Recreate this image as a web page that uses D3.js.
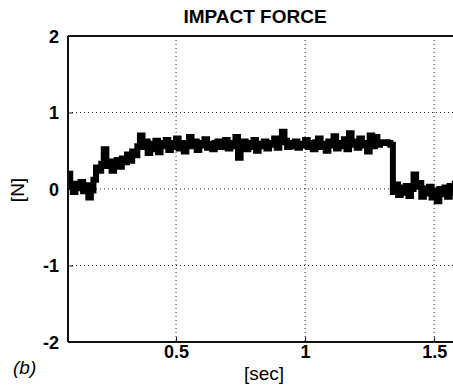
<!DOCTYPE html>
<html>
<head>
<meta charset="utf-8">
<script src="https://cdn.jsdelivr.net/npm/d3@7"></script>
<style>
    body { margin: 0; background: #fff; }
    text { font-family: "Liberation Sans", Arial, sans-serif; fill: #000; }
</style>
</head>
<body>
<div id="chart"></div>
<script>
/* Sampled impact force, one sample every 0.01 sec starting at 0.08 sec */
var startTime = 0.08;
var samplePeriod = 0.01;
var forceValues = [
    0.20, 0.03, -0.04, 0.07, 0.01, 0.09, -0.03, 0.05, -0.11, -0.02,
    0.12, 0.28, 0.24, 0.33, 0.52, 0.30, 0.36, 0.24, 0.34, 0.38,
    0.29, 0.40, 0.35, 0.45, 0.37, 0.49, 0.44, 0.56, 0.70, 0.55,
    0.62, 0.47, 0.59, 0.52, 0.63, 0.48, 0.60, 0.56, 0.64, 0.51,
    0.60, 0.55, 0.66, 0.53, 0.60, 0.49, 0.58, 0.68, 0.56, 0.62,
    0.51, 0.60, 0.57, 0.65, 0.54, 0.59, 0.52, 0.60, 0.62, 0.55,
    0.58, 0.64, 0.53, 0.60, 0.56, 0.68, 0.41, 0.57, 0.62, 0.52,
    0.60, 0.55, 0.64, 0.50, 0.59, 0.56, 0.62, 0.53, 0.60, 0.58,
    0.66, 0.54, 0.61, 0.75, 0.63, 0.55, 0.60, 0.56, 0.62, 0.54,
    0.59, 0.57, 0.64, 0.55, 0.60, 0.52, 0.61, 0.66, 0.55, 0.59,
    0.50, 0.62, 0.57, 0.69, 0.53, 0.60, 0.56, 0.65, 0.52, 0.73,
    0.58, 0.62, 0.54, 0.66, 0.57, 0.60, 0.49, 0.70, 0.56, 0.68,
    0.58, 0.61, 0.60, 0.61, 0.60, 0.58, -0.04, 0.06, -0.08, 0.02,
    -0.05, 0.04, -0.09, 0.00, 0.19, 0.03, 0.08, -0.10, 0.01, -0.06,
    0.03, -0.11, -0.02, -0.16, 0.00, -0.07, 0.02, -0.10, 0.04, -0.05,
    0.07, -0.08, 0.03
];
var xTicks = [0.5, 1, 1.5];
var xTickLabels = ["0.5", "1", "1.5"];
var yTicks = [-2, -1, 0, 1, 2];
var yGrid = [-1, 0, 1];
var xDomain = [0.0814, 1.6];
var yDomain = [-2, 2];

var svgWidth = 453;   /* svg width */
var svgHeight = 387;  /* svg height */
var plotLeft = 68, plotTop = 36, plotBottom = 342, plotRight = 460;

var theSVG = d3.select("#chart")
    .append("svg")
    .attr("width", svgWidth)
    .attr("height", svgHeight)
;

var x = d3.scaleLinear().domain(xDomain).range([plotLeft, plotRight]);
var y = d3.scaleLinear().domain(yDomain).range([plotBottom, plotTop]);

/* dotted grid */
theSVG.append("g").selectAll("line")
    .data(xTicks).enter().append("line")
    .attr("x1", function (d) { return x(d); })
    .attr("x2", function (d) { return x(d); })
    .attr("y1", plotTop).attr("y2", plotBottom)
    .attr("stroke", "#222").attr("stroke-width", 1)
    .attr("stroke-dasharray", "1,3")
;
theSVG.append("g").selectAll("line")
    .data(yGrid).enter().append("line")
    .attr("x1", plotLeft).attr("x2", plotRight)
    .attr("y1", function (d) { return y(d); })
    .attr("y2", function (d) { return y(d); })
    .attr("stroke", "#222").attr("stroke-width", 1)
    .attr("stroke-dasharray", "1,3")
;

/* the force trace */
var line = d3.line()
    .x(function (d, i) { return x(startTime + i * samplePeriod); })
    .y(function (d) { return y(d); })
    .curve(d3.curveStepAfter)
;
theSVG.append("path")
    .datum(forceValues)
    .attr("fill", "none")
    .attr("stroke", "#000")
    .attr("stroke-width", 6)
    .attr("d", line)
;

/* axes: MATLAB style box, ticks pointing in */
var xAxis = d3.axisBottom(x).tickValues(xTicks).tickSize(-5)
    .tickFormat(function (d, i) { return xTickLabels[i]; });
var yAxis = d3.axisLeft(y).tickValues(yTicks).tickSize(-5)
    .tickFormat(function (d) { return String(d); });

var gx = theSVG.append("g")
    .attr("transform", "translate(0," + plotBottom + ")")
    .call(xAxis)
;
var gy = theSVG.append("g")
    .attr("transform", "translate(" + plotLeft + ",0)")
    .call(yAxis)
;
[gx, gy].forEach(function (g) {
    g.select(".domain").attr("stroke", "#111").attr("stroke-width", 2);
    g.selectAll(".tick line").attr("stroke", "#111");
    g.selectAll("text")
        .style("font-family", "'Liberation Sans', Arial, sans-serif")
        .style("font-size", "18px")
        .style("font-weight", "bold")
        .attr("fill", "#000");
});
gx.selectAll("text").attr("y", 0).attr("dy", "16px");
gy.selectAll("text").attr("x", -9).attr("dy", "0.36em");
gx.select(".domain").attr("d", "M" + plotLeft + ",0H" + plotRight);
gy.select(".domain").attr("d", "M0," + plotTop + "V" + plotBottom);

/* top border */
theSVG.append("line")
    .attr("x1", plotLeft).attr("x2", plotRight)
    .attr("y1", plotTop).attr("y2", plotTop)
    .attr("stroke", "#111").attr("stroke-width", 2)
;

/* labels */
theSVG.append("text")
    .attr("x", 255).attr("y", 23)
    .attr("text-anchor", "middle")
    .style("font-size", "19px").style("font-weight", "bold")
    .text("IMPACT FORCE")
;
theSVG.append("text")
    .attr("x", 264).attr("y", 380)
    .attr("text-anchor", "middle")
    .style("font-size", "19px")
    .text("[sec]")
;
theSVG.append("text")
    .attr("transform", "translate(24,190) rotate(-90)")
    .attr("text-anchor", "middle")
    .style("font-size", "19px")
    .text("[N]")
;
theSVG.append("text")
    .attr("x", 13).attr("y", 374)
    .style("font-size", "19px").style("font-style", "italic")
    .text("(b)")
;
</script>
</body>
</html>
